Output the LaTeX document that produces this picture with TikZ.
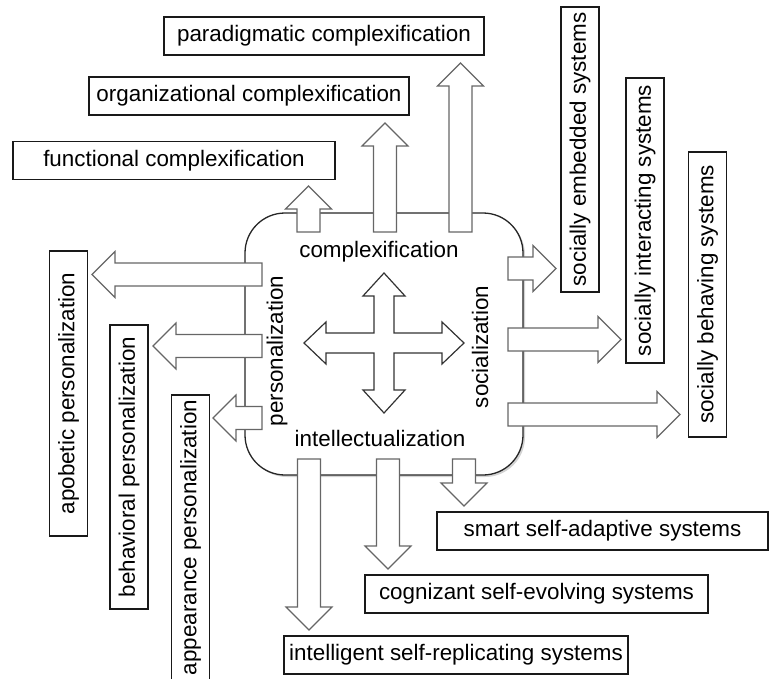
\documentclass[tikz,border=0pt]{standalone}
\usepackage{fontspec}
\setmainfont{Liberation Sans}
\usetikzlibrary{shadows}
\tikzset{
  lbl/.style={font=\fontsize{22.4}{26}\selectfont, inner sep=0pt, text=black},
  outbox/.style={draw=black!90, line width=1.2pt, fill=white, inner sep=0pt,
     font=\fontsize{22.4}{26}\selectfont, minimum height=38pt},
  mainbox/.style={draw=black!85, line width=1.3pt, rounded corners=40pt, fill=white,
     drop shadow={opacity=0.35, shadow xshift=2pt, shadow yshift=-2pt}},
  barrowstyle/.style={draw=black!60, line width=1.1pt, fill=white, line join=miter},
  crossstyle/.style={draw=black!80, line width=1.2pt, fill=white, line join=miter},
}
\newcommand\blockarrow[3]{\draw[barrowstyle, shift={#1}, rotate=#2]
  (0,-11.5) -- ({#3-23},-11.5) -- ({#3-23},-23) -- (#3,0) -- ({#3-23},23)
  -- ({#3-23},11.5) -- (0,11.5) -- cycle;}
\begin{document}
\begin{tikzpicture}[x=1pt,y=-1pt]
\useasboundingbox (0,0) rectangle (770,679);
\clip (0,0) rectangle (770,679);
% core box
\node[mainbox, minimum width=278pt, minimum height=262pt] (core) at (384,344) {};
% start points of block arrows
\coordinate (t1) at (308.5,232); \coordinate (t2) at (385,232); \coordinate (t3) at (460.5,232);
\coordinate (r1) at (508,268.5); \coordinate (r2) at (508,339.5); \coordinate (r3) at (508,414.5);
\coordinate (l1) at (262,274.5); \coordinate (l2) at (262,346); \coordinate (l3) at (262,418);
\coordinate (b1) at (309,459); \coordinate (b2) at (388,459); \coordinate (b3) at (464,459);
\blockarrow{(t1)}{90}{46}
\blockarrow{(t2)}{90}{109}
\blockarrow{(t3)}{90}{169}
\blockarrow{(r1)}{0}{48}
\blockarrow{(r2)}{0}{113}
\blockarrow{(r3)}{0}{172}
\blockarrow{(l1)}{180}{170}
\blockarrow{(l2)}{180}{109}
\blockarrow{(l3)}{180}{49}
\blockarrow{(b1)}{-90}{171}
\blockarrow{(b2)}{-90}{110}
\blockarrow{(b3)}{-90}{47}
% inner labels
\node[lbl] (cx) at (379,252) {complexification};
\node[lbl] (ix) at (380,438) {intellectualization};
\node[lbl, rotate=90] (px) at (277,351) {personalization};
\node[lbl, rotate=90] (sx) at (480,347) {socialization};
% central cross
\draw[crossstyle] (384,273) -- (405,296) -- (394,296) -- (394,333) -- (442,333) -- (442,322)
  -- (464,343) -- (442,364) -- (442,353) -- (394,353) -- (394,390) -- (405,390) -- (384,413)
  -- (363,390) -- (374,390) -- (374,353) -- (326,353) -- (326,364) -- (304,343) -- (326,322)
  -- (326,333) -- (374,333) -- (374,296) -- (363,296) -- cycle;
% outer boxes
\node[outbox, minimum width=320pt] (para) at (324,36) {paradigmatic complexification};
\node[outbox, minimum width=320pt] (orga) at (249,96) {organizational complexification};
\node[outbox, minimum width=322pt] (func) at (174,160.5) {functional complexification};
\node[outbox, rotate=90, minimum width=285pt] (emb) at (580,149.5) {socially embedded systems};
\node[outbox, rotate=90, minimum width=285pt] (int) at (645,220.5) {socially interacting systems};
\node[outbox, rotate=90, minimum width=285pt] (beh) at (707.5,294.5) {socially behaving systems};
\node[outbox, rotate=90, minimum width=285pt] (apo) at (68.5,393.5) {apobetic personalization};
\node[outbox, rotate=90, minimum width=284pt] (bper) at (129,467) {behavioral personalization};
\node[outbox, rotate=90, minimum width=285pt] (app) at (190.5,537.5) {appearance personalization};
\node[outbox, minimum width=331pt] (smart) at (602.5,531) {smart self-adaptive systems};
\node[outbox, minimum width=343pt] (cog) at (536.5,594) {cognizant self-evolving systems};
\node[outbox, minimum width=344pt] (intel) at (456,655) {intelligent self-replicating systems};
\end{tikzpicture}
\end{document}
